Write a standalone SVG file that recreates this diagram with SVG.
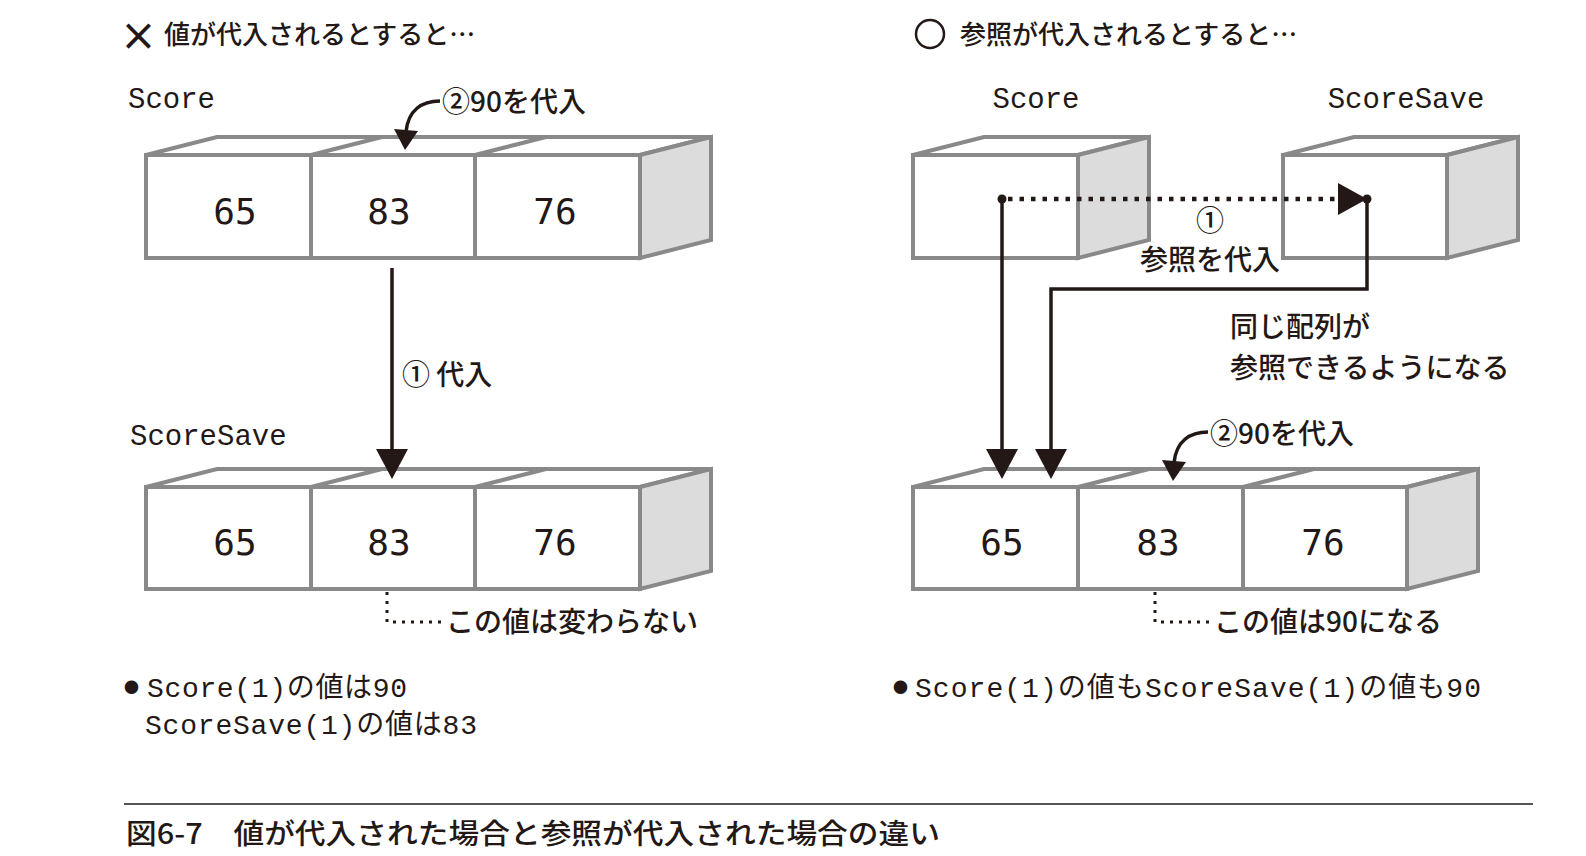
<svg xmlns="http://www.w3.org/2000/svg" width="1586" height="856" viewBox="0 0 1586 856">
<style>
.box{fill:#fff;stroke:#898989;stroke-width:4;stroke-linejoin:miter}
.side{fill:#dcdcdc;stroke:#898989;stroke-width:4;stroke-linejoin:miter}
.div{fill:none;stroke:#898989;stroke-width:4}
.num{font-family:"DejaVu Sans Mono","Liberation Mono",monospace;font-size:36px;fill:#231815;text-anchor:middle}
.code{font-family:"Liberation Mono","Noto Sans CJK JP",monospace;font-size:29px;fill:#231815}
.jp{font-family:"Noto Sans CJK JP","Noto Sans",sans-serif;font-size:28px;font-weight:500;fill:#231815}
.title{font-family:"Noto Sans CJK JP","Noto Sans",sans-serif;font-size:26px;font-weight:500;fill:#231815}
.bul{font-family:"Liberation Mono","Noto Sans CJK JP",monospace;font-size:28px;fill:#231815}
.dot{font-family:"Noto Sans CJK JP","Noto Sans",sans-serif;font-size:15px;fill:#231815}
.line{fill:none;stroke:#231815;stroke-width:3.5}
.dots{fill:none;stroke:#231815;stroke-width:4.5;stroke-dasharray:4.5 7}
.dots2{fill:none;stroke:#231815;stroke-width:3;stroke-dasharray:3 6}
.head{fill:#231815}
</style>

<!-- titles -->
<g id="title-left">
<text x="120" y="50" font-family="DejaVu Sans, sans-serif" font-size="44" fill="#231815">×</text>
<text class="title" x="164" y="44">値が代入されるとすると…</text>
</g>
<g id="title-right">
<circle cx="930" cy="34" r="14" fill="none" stroke="#231815" stroke-width="2.5"/>
<text class="title" x="960" y="44">参照が代入されるとすると…</text>
</g>

<!-- left: Score array -->
<g id="left-score">
<text class="code" x="128" y="108">Score</text>
<polygon class="box" points="146,155 217,137 711,137 640,155"/>
<polygon class="side" points="640,155 711,137 711,240 640,258"/>
<rect class="box" x="146" y="155" width="494" height="103"/>
<path class="div" d="M311,155V258M475,155V258M311,155L382,137M475,155L546,137"/>
<text class="num" x="235" y="224">65</text>
<text class="num" x="389" y="224">83</text>
<text class="num" x="555" y="224">76</text>
</g>

<!-- left: ScoreSave array -->
<g id="left-scoresave">
<text class="code" x="130" y="445">ScoreSave</text>
<polygon class="box" points="146,487 217,469 711,469 640,487"/>
<polygon class="side" points="640,487 711,469 711,571 640,589"/>
<rect class="box" x="146" y="487" width="494" height="102"/>
<path class="div" d="M311,487V589M475,487V589M311,487L382,469M475,487L546,469"/>
<text class="num" x="235" y="555">65</text>
<text class="num" x="389" y="555">83</text>
<text class="num" x="555" y="555">76</text>
</g>

<!-- right: Score box -->
<g id="right-score">
<text class="code" x="1036" y="108" text-anchor="middle">Score</text>
<polygon class="box" points="913,155 984,137 1149,137 1078,155"/>
<polygon class="side" points="1078,155 1149,137 1149,240 1078,258"/>
<rect class="box" x="913" y="155" width="165" height="103"/>
</g>

<!-- right: ScoreSave box -->
<g id="right-scoresave">
<text class="code" x="1406" y="108" text-anchor="middle">ScoreSave</text>
<polygon class="box" points="1283,155 1354,137 1518,137 1447,155"/>
<polygon class="side" points="1447,155 1518,137 1518,240 1447,258"/>
<rect class="box" x="1283" y="155" width="164" height="103"/>
</g>

<!-- right: shared array -->
<g id="right-array">
<polygon class="box" points="913,487 984,469 1478,469 1407,487"/>
<polygon class="side" points="1407,487 1478,469 1478,571 1407,589"/>
<rect class="box" x="913" y="487" width="494" height="102"/>
<path class="div" d="M1078,487V589M1243,487V589M1078,487L1149,469M1243,487L1314,469"/>
<text class="num" x="1002" y="555">65</text>
<text class="num" x="1158" y="555">83</text>
<text class="num" x="1323" y="555">76</text>
</g>

<!-- connectors -->
<g id="connectors">
<!-- left: ② 90 assign -->
<path class="line" d="M440,101 C422,101 408,110 406,132" stroke-width="4"/>
<polygon class="head" points="394,129 418,131 405,150"/>
<!-- left: ① assign -->
<line class="line" x1="392" y1="268" x2="392" y2="452"/>
<polygon class="head" points="376,449 408,449 392,479"/>
<!-- left leader -->
<path class="dots2" d="M387,592V622H444"/>

<!-- right: ① reference assign -->
<line class="dots" x1="1008" y1="199" x2="1336" y2="199"/>
<polygon class="head" points="1338,183 1338,215 1367,199"/>
<circle class="head" cx="1002" cy="199" r="4.5"/>
<circle class="head" cx="1367" cy="199" r="4.5"/>
<line class="line" x1="1002" y1="199" x2="1002" y2="452"/>
<polygon class="head" points="986,449 1018,449 1002,479"/>
<path class="line" d="M1367,199V289H1051V452"/>
<polygon class="head" points="1035,449 1067,449 1051,479"/>
<!-- right: ② 90 assign -->
<path class="line" d="M1208,432 C1190,432 1176,441 1174,463" stroke-width="4"/>
<polygon class="head" points="1162,460 1186,462 1173,481"/>
<!-- right leader -->
<path class="dots2" d="M1155,592V622H1212"/>
</g>

<!-- labels -->
<g id="labels">
<text class="jp" x="442" y="112">②90を代入</text>
<text class="jp" x="402" y="385">① 代入</text>
<text class="jp" x="1210" y="231" text-anchor="middle">①</text>
<text class="jp" x="1210" y="270" text-anchor="middle">参照を代入</text>
<text class="jp" x="1230" y="337">同じ配列が</text>
<text class="jp" x="1230" y="378">参照できるようになる</text>
<text class="jp" x="1210" y="444">②90を代入</text>
<text class="jp" x="446" y="632">この値は変わらない</text>
<text class="jp" x="1214" y="632">この値は90になる</text>
</g>

<!-- notes -->
<g id="notes">
<text class="dot" x="124" y="693">●</text>
<text class="bul" x="147" y="697" textLength="260" lengthAdjust="spacing">Score(1)の値は90</text>
<text class="bul" x="145" y="734" textLength="332" lengthAdjust="spacing">ScoreSave(1)の値は83</text>
<text class="dot" x="893" y="693">●</text>
<text class="bul" x="915" y="697" textLength="566" lengthAdjust="spacing">Score(1)の値もScoreSave(1)の値も90</text>
</g>

<!-- caption -->
<g id="caption">
<line x1="124" y1="804" x2="1533" y2="804" stroke="#555" stroke-width="2"/>
<text class="jp" x="126" y="844" font-size="29" font-weight="400" textLength="814" lengthAdjust="spacingAndGlyphs">図6-7　値が代入された場合と参照が代入された場合の違い</text>
</g>
</svg>
